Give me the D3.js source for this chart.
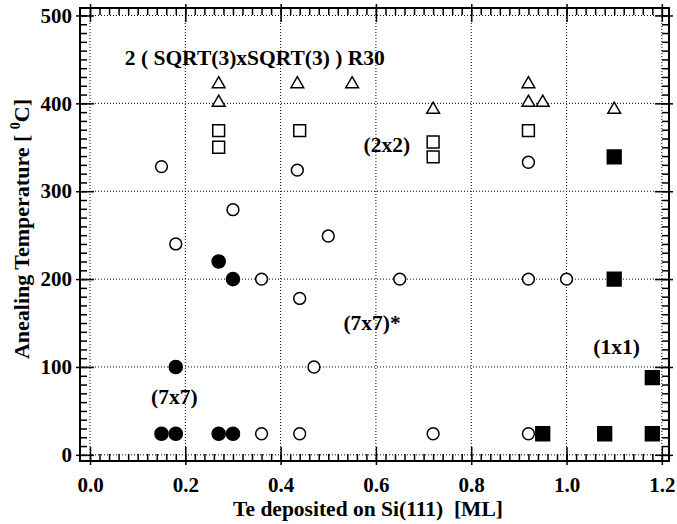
<!DOCTYPE html>
<html>
<head>
<meta charset="utf-8">
<script src="https://cdn.jsdelivr.net/npm/d3@7"></script>
<style>
  body { margin: 0; background: #fff; }
  text { font-family: "Liberation Serif", "Times New Roman", serif; font-weight: bold; fill: #000; }
</style>
</head>
<body>
<div class="phase-chart"></div>
<script>
// Te deposited [ML] vs annealing temperature [C], one array pair per structure
const ring7x7X = [0.15, 0.18, 0.27, 0.30, 0.18, 0.27, 0.30];
const ring7x7Y = [24, 24, 24, 24, 100, 220, 200];

const star7x7X = [0.15, 0.18, 0.30, 0.435, 0.50, 0.36, 0.44, 0.47, 0.36, 0.44, 0.65, 0.92, 1.00, 0.72, 0.92, 0.92];
const star7x7Y = [328, 240, 279, 324, 249, 200, 178, 100, 24, 24, 200, 200, 200, 24, 24, 333];

const twoByTwoX = [0.27, 0.27, 0.44, 0.72, 0.72, 0.92];
const twoByTwoY = [369, 350, 369, 356, 339, 369];

const sqrt3X = [0.27, 0.27, 0.435, 0.55, 0.72, 0.92, 0.92, 0.95, 1.10];
const sqrt3Y = [422, 401, 422, 422, 393, 422, 401, 401, 393];

const oneByOneX = [1.10, 1.10, 1.18, 0.95, 1.08, 1.18];
const oneByOneY = [339, 200, 88, 24, 24, 24];

const xTicks = [0.0, 0.2, 0.4, 0.6, 0.8, 1.0, 1.2];
const yTicks = [0, 100, 200, 300, 400, 500];

const labelTexts = ['2 ( SQRT(3)xSQRT(3) ) R30', '(2x2)', '(7x7)*', '(1x1)', '(7x7)'];
const labelX = [0.073, 0.623, 0.592, 1.105, 0.177];
const labelY = [444, 345, 142, 115, 58];
const labelAnchor = ['start', 'middle', 'middle', 'middle', 'middle'];

const W = 677, H = 524;
const margin = { top: 8, right: 8, bottom: 63, left: 80 };
const width = W - margin.left - margin.right;
const height = H - margin.top - margin.bottom;

const svg = d3.select('.phase-chart')
  .append('svg')
  .attr('width', W)
  .attr('height', H);

const g = svg.append('g')
  .attr('transform', `translate(${margin.left},${margin.top})`);

const xScale = d3.scaleLinear().domain([-0.021, 1.215]).range([0, width]);
const yScale = d3.scaleLinear().domain([-7, 508.5]).range([height, 0]);

// dotted grid
g.append('g').selectAll('line')
  .data(xTicks)
  .enter().append('line')
  .attr('x1', d => xScale(d)).attr('x2', d => xScale(d))
  .attr('y1', 0).attr('y2', height)
  .attr('stroke', '#000').attr('stroke-width', 1).attr('stroke-dasharray', '1,2');

g.append('g').selectAll('line')
  .data(yTicks)
  .enter().append('line')
  .attr('y1', d => yScale(d)).attr('y2', d => yScale(d))
  .attr('x1', 0).attr('x2', width)
  .attr('stroke', '#000').attr('stroke-width', 1).attr('stroke-dasharray', '1,2');

// ticks on all four sides
const xMinor = d3.range(0, 61).map(i => i * 0.02);
const yMinor = d3.range(0, 51).map(i => i * 10);

function tickAxis(axis, values, size, transform) {
  const a = g.append('g')
    .attr('transform', transform)
    .call(axis.tickValues(values).tickSize(size).tickFormat(''));
  a.select('.domain').remove();
  a.selectAll('line').attr('stroke', '#000').attr('stroke-width', 1.5);
  return a;
}

tickAxis(d3.axisBottom(xScale), xMinor, -7, `translate(0,${height})`);
tickAxis(d3.axisBottom(xScale), xTicks, -14, `translate(0,${height})`);
tickAxis(d3.axisBottom(xScale), xTicks, 4, `translate(0,${height})`);
tickAxis(d3.axisTop(xScale), xMinor, -7, 'translate(0,0)');
tickAxis(d3.axisTop(xScale), xTicks, -14, 'translate(0,0)');
tickAxis(d3.axisTop(xScale), xTicks, 4, 'translate(0,0)');
tickAxis(d3.axisLeft(yScale), yMinor, -7, 'translate(0,0)');
tickAxis(d3.axisLeft(yScale), yTicks, -14, 'translate(0,0)');
tickAxis(d3.axisLeft(yScale), yTicks, 4, 'translate(0,0)');
tickAxis(d3.axisRight(yScale), yMinor, -7, `translate(${width},0)`);
tickAxis(d3.axisRight(yScale), yTicks, -14, `translate(${width},0)`);
tickAxis(d3.axisRight(yScale), yTicks, 4, `translate(${width},0)`);

// frame
g.append('rect')
  .attr('width', width).attr('height', height)
  .attr('fill', 'none').attr('stroke', '#000').attr('stroke-width', 2);

// tick labels
const xLab = g.append('g')
  .attr('transform', `translate(0,${height})`)
  .call(d3.axisBottom(xScale).tickValues(xTicks).tickSize(0).tickPadding(16).tickFormat(d3.format('.1f')));
xLab.select('.domain').remove();
xLab.selectAll('text').attr('font-size', 21).style('font-family', '"Liberation Serif", serif').style('font-weight', 'bold');

const yLab = g.append('g')
  .call(d3.axisLeft(yScale).tickValues(yTicks).tickSize(0).tickPadding(8).tickFormat(d3.format('d')));
yLab.select('.domain').remove();
yLab.selectAll('text').attr('font-size', 21).style('font-family', '"Liberation Serif", serif').style('font-weight', 'bold');

// markers
function drawSeries(xs, ys, type, size, filled) {
  const pts = xs.map((x, i) => ({ x, y: ys[i] }));
  g.append('g').selectAll('path')
    .data(pts)
    .enter().append('path')
    .attr('d', d3.symbol(type, size))
    .attr('transform', d => `translate(${xScale(d.x)},${yScale(d.y)})`)
    .attr('fill', filled ? '#000' : '#fff')
    .attr('stroke', '#000')
    .attr('stroke-width', 1.5);
}

drawSeries(star7x7X, star7x7Y, d3.symbolCircle, 110, false);
drawSeries(ring7x7X, ring7x7Y, d3.symbolCircle, 135, true);
drawSeries(twoByTwoX, twoByTwoY, d3.symbolSquare, 140, false);
drawSeries(sqrt3X, sqrt3Y, d3.symbolTriangle, 70, false);
drawSeries(oneByOneX, oneByOneY, d3.symbolSquare, 190, true);

// region labels
g.append('g').selectAll('text')
  .data(labelTexts)
  .enter().append('text')
  .attr('x', (d, i) => xScale(labelX[i]))
  .attr('y', (d, i) => yScale(labelY[i]))
  .attr('text-anchor', (d, i) => labelAnchor[i])
  .attr('font-size', 21.5)
  .text(d => d);

// axis titles
svg.append('text')
  .attr('x', 368).attr('y', 516)
  .attr('text-anchor', 'middle')
  .attr('font-size', 21.5)
  .style('white-space', 'pre')
  .text('Te deposited on Si(111)  [ML]');

const yt = svg.append('text')
  .attr('transform', 'translate(29,229) rotate(-90)')
  .attr('text-anchor', 'middle')
  .attr('font-size', 22)
  .style('white-space', 'pre');
yt.append('tspan').text('Anealing Temperature [ ');
yt.append('tspan').attr('font-size', 14).attr('dy', -9).text('0');
yt.append('tspan').attr('dy', 9).text('C]');
</script>
</body>
</html>
